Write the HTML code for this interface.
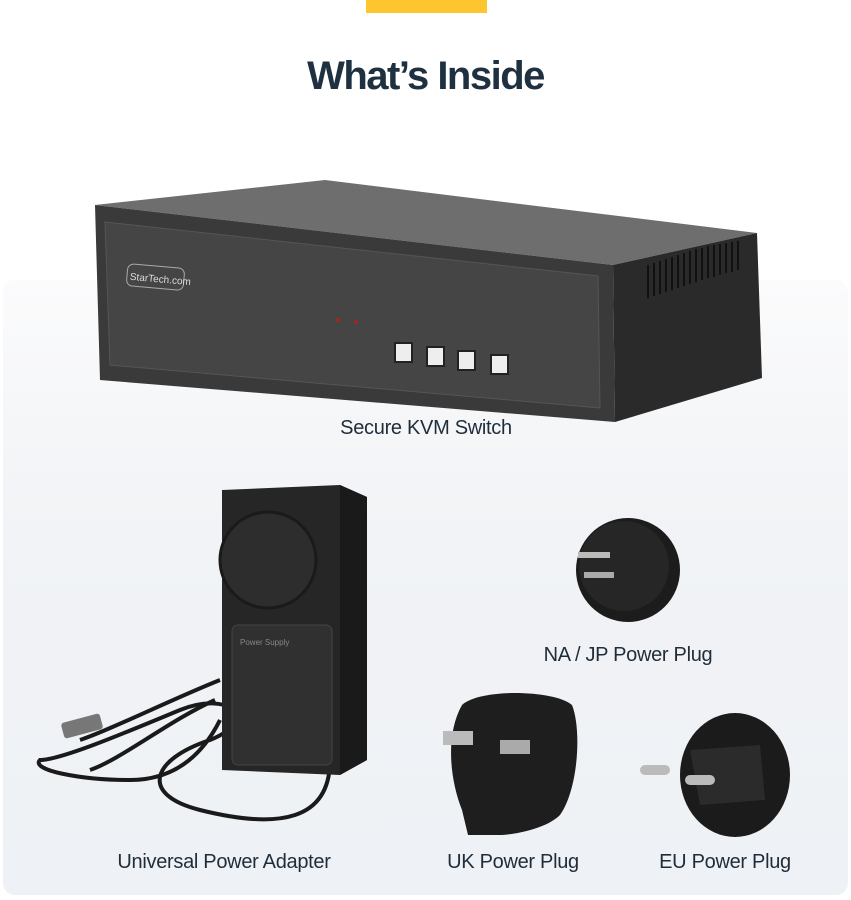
<!DOCTYPE html>
<html><head><meta charset="utf-8"><style>
html,body{margin:0;padding:0;background:#fff;}
body{width:851px;height:900px;position:relative;overflow:hidden;font-family:"Liberation Sans",sans-serif;}
.bg{position:absolute;left:3px;top:280px;width:845px;height:615px;border-radius:12px;background:linear-gradient(#fbfbfc,#f1f3f6 40%,#eef1f5);}
.bar{position:absolute;left:366px;top:0;width:121px;height:13px;background:#fec62e;}
h1{position:absolute;top:54px;left:0;width:851px;margin:0;text-align:center;font-size:40px;font-weight:bold;color:#1f3040;letter-spacing:-1.5px;}
.lab{position:absolute;font-size:20px;color:#1f2d3a;white-space:nowrap;transform:translateX(-50%);letter-spacing:-0.3px;}
svg{position:absolute;left:0;top:0;}
</style></head><body>
<div class="bg"></div>
<div class="bar"></div>
<h1>What’s Inside</h1>
<svg width="851" height="900">
<!-- KVM -->
<polygon points="95,205 325,180 757,233 613,265" fill="#6e6e6e"/>
<polygon points="613,265 757,233 762,378 615,422" fill="#2a2a2a"/>
<polygon points="95,205 613,265 615,422 100,380" fill="#3a3a3a"/>
<polygon points="105,222 598,276 600,408 110,365" fill="#454545" stroke="#555" stroke-width="1"/>
<rect x="127" y="266" width="57" height="22" rx="6" fill="none" stroke="#aaa" transform="rotate(5 155 277)"/>
<text x="130" y="282" font-size="10" fill="#ddd" transform="rotate(5 155 277)">StarTech.com</text>
<g stroke="#111" stroke-width="2">
<line x1="648" y1="265" x2="648" y2="298"/><line x1="654" y1="263" x2="654" y2="296"/><line x1="660" y1="261" x2="660" y2="294"/><line x1="666" y1="259" x2="666" y2="292"/><line x1="672" y1="257" x2="672" y2="290"/><line x1="678" y1="255" x2="678" y2="288"/><line x1="684" y1="253" x2="684" y2="286"/><line x1="690" y1="251" x2="690" y2="284"/><line x1="696" y1="249" x2="696" y2="282"/><line x1="702" y1="248" x2="702" y2="280"/><line x1="708" y1="246" x2="708" y2="278"/><line x1="714" y1="245" x2="714" y2="277"/><line x1="720" y1="244" x2="720" y2="275"/><line x1="726" y1="243" x2="726" y2="273"/><line x1="732" y1="242" x2="732" y2="272"/><line x1="738" y1="241" x2="738" y2="270"/>
</g>
<circle cx="338" cy="320" r="2" fill="#a22"/><circle cx="356" cy="322" r="2" fill="#a22"/>
<g fill="#eee" stroke="#222" stroke-width="2">
<rect x="395" y="343" width="17" height="19"/><rect x="427" y="347" width="17" height="19"/><rect x="458" y="351" width="17" height="19"/><rect x="491" y="355" width="17" height="19"/>
</g>
<!-- adapter -->
<g fill="none" stroke="#1a1a1a" stroke-width="4">
<path d="M330,760 C330,820 280,830 200,810 C140,795 150,760 210,740 C260,720 230,690 180,710 C120,735 60,760 40,760 C30,770 80,780 130,780 C170,780 200,760 220,720"/>
<path d="M220,680 C170,700 110,730 80,740"/>
<path d="M215,700 C170,720 120,760 90,770"/>
</g>
<rect x="62" y="718" width="40" height="16" rx="3" fill="#777" transform="rotate(-15 82 726)"/>
<polygon points="222,490 340,485 367,497 367,760 340,775 222,770" fill="#262626"/>
<polygon points="340,485 367,497 367,760 340,775" fill="#1a1a1a"/>
<circle cx="268" cy="560" r="48" fill="#2d2d2d" stroke="#1a1a1a" stroke-width="3"/>
<rect x="232" y="625" width="100" height="140" rx="6" fill="#303030" stroke="#444"/>
<text x="240" y="645" font-size="8" fill="#888">Power Supply</text>
<!-- NA plug -->
<circle cx="628" cy="570" r="52" fill="#1c1c1c"/>
<circle cx="624" cy="566" r="45" fill="#262626"/>
<rect x="578" y="552" width="32" height="6" fill="#bbb"/><rect x="584" y="572" width="30" height="6" fill="#aaa"/>
<!-- UK plug -->
<path d="M462,705 C480,688 555,690 572,705 C582,730 578,790 560,815 C545,830 510,835 500,835 L468,835 L462,810 C450,780 445,735 462,705Z" fill="#1e1e1e"/>
<rect x="443" y="731" width="30" height="14" fill="#bbb"/><rect x="500" y="740" width="30" height="14" fill="#aaa"/>
<!-- EU plug -->
<ellipse cx="735" cy="775" rx="55" ry="62" fill="#1b1b1b"/>
<path d="M690,750 L760,745 L765,800 L700,805Z" fill="#2b2b2b"/>
<rect x="640" y="765" width="30" height="10" rx="5" fill="#bbb"/><rect x="685" y="775" width="30" height="10" rx="5" fill="#bbb"/>
</svg>
<div class="lab" style="left:426px;top:417px;">Secure KVM Switch</div>
<div class="lab" style="left:628px;top:644px;">NA / JP Power Plug</div>
<div class="lab" style="left:224px;top:851px;">Universal Power Adapter</div>
<div class="lab" style="left:513px;top:851px;">UK Power Plug</div>
<div class="lab" style="left:725px;top:851px;">EU Power Plug</div>
</body></html>
